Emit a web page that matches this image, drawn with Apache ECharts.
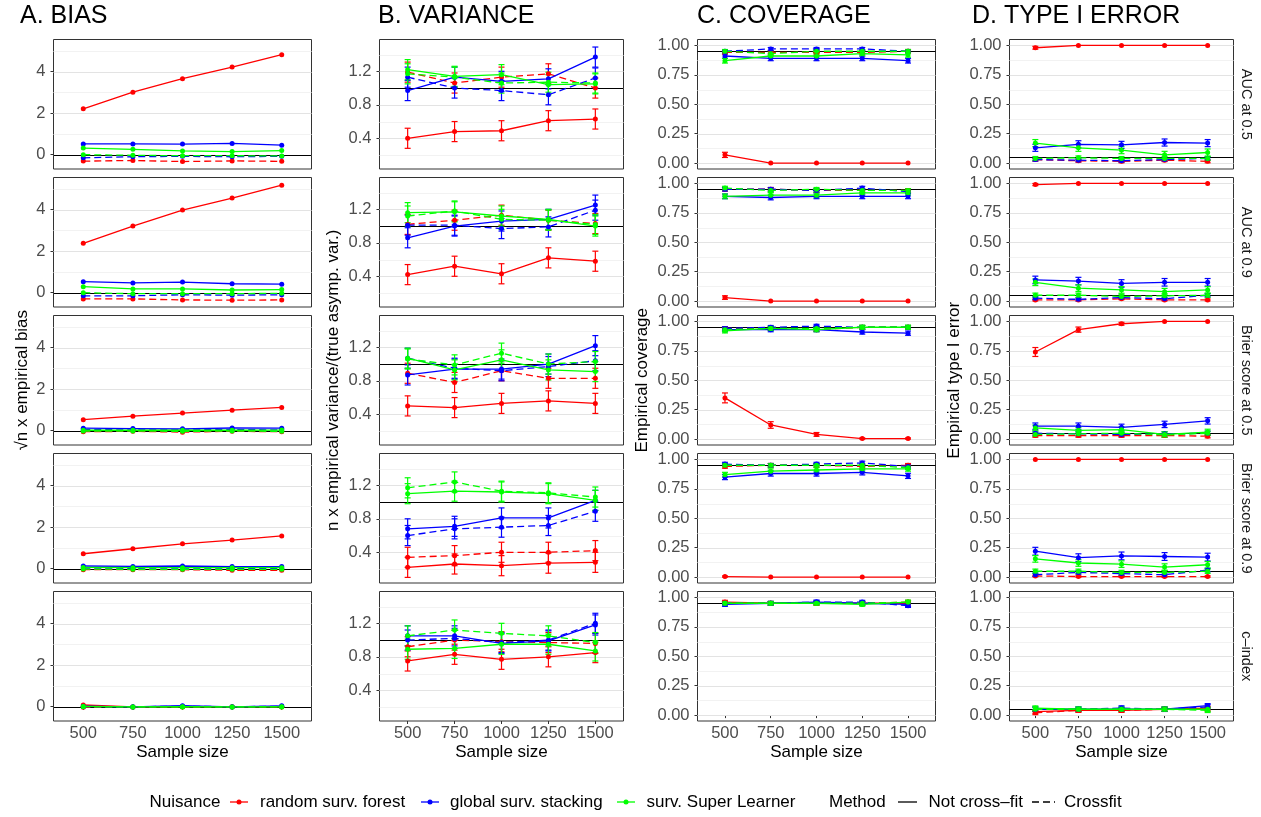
<!DOCTYPE html>
<html><head><meta charset="utf-8">
<script src="https://cdn.jsdelivr.net/npm/echarts@6/dist/echarts.min.js"></script>
<style>html,body{margin:0;padding:0;background:#fff}#chart{width:1261px;height:817px}</style>
</head><body><div id="chart"></div>
<script>
// ---------------- DATA ----------------
const sampleSizes = [500, 750, 1000, 1250, 1500];
const nuisanceNames = ['random surv. forest', 'global surv. stacking', 'surv. Super Learner'];
const methodNames = ['Not cross–fit', 'Crossfit'];
const metricNames = ['AUC at 0.5', 'AUC at 0.9', 'Brier score at 0.5', 'Brier score at 0.9', 'c–index'];
const panelTitles = ['A. BIAS', 'B. VARIANCE', 'C. COVERAGE', 'D. TYPE I ERROR'];
const yTitles = ['√n x empirical bias', 'n x empirical variance/(true asymp. var.)', 'Empirical coverage', 'Empirical type I error'];
const biasTicks = [0, 2, 4];
const varTicks = [0.4, 0.8, 1.2];
const propTicks = [0, 0.25, 0.5, 0.75, 1];
const biasRef = 0, varRef = 1, covRef = 0.95, typeIRef = 0.05;

// each panel: [RSF not-CF, RSF CF, GSS not-CF, GSS CF, SSL not-CF, SSL CF]
const biasAUC05 = [[2.21,3.01,3.66,4.22,4.82],[-0.31,-0.28,-0.33,-0.30,-0.32],[0.52,0.52,0.51,0.54,0.46],[-0.15,-0.10,-0.08,-0.10,-0.08],[0.32,0.26,0.18,0.15,0.20],[0.0,-0.03,-0.05,-0.05,-0.06]];
const biasAUC09 = [[2.38,3.21,3.98,4.56,5.18],[-0.30,-0.30,-0.35,-0.36,-0.35],[0.53,0.47,0.51,0.43,0.41],[-0.15,-0.15,-0.10,-0.12,-0.10],[0.29,0.18,0.18,0.13,0.15],[0.0,-0.05,-0.05,-0.05,-0.03]];
const biasBrier05 = [[0.53,0.70,0.85,0.99,1.12],[-0.05,-0.03,-0.07,-0.03,-0.05],[0.12,0.10,0.09,0.13,0.12],[0.05,0.04,0.04,0.05,0.04],[0.02,0.02,0.02,0.02,0.03],[-0.02,-0.02,-0.03,-0.02,-0.03]];
const biasBrier09 = [[0.72,0.96,1.20,1.38,1.58],[-0.05,-0.05,-0.05,-0.08,-0.08],[0.13,0.11,0.13,0.10,0.10],[0.03,0.02,0.03,0.02,0.02],[0.06,0.05,0.05,0.05,0.05],[-0.02,-0.03,-0.03,-0.03,-0.03]];
const biasCindex = [[0.08,-0.01,0.0,0.0,0.0],[-0.03,-0.02,-0.02,-0.01,-0.01],[0.02,-0.01,0.05,-0.01,0.04],[0.0,0.0,0.02,0.0,0.02],[0.01,-0.01,0.0,-0.01,-0.01],[0.0,-0.01,-0.01,-0.01,0.0]];

const varAUC05 = [[0.40,0.48,0.49,0.61,0.63],[1.19,1.06,1.13,1.17,1.00],[0.97,1.13,1.08,1.11,1.37],[1.13,1.00,0.97,0.92,1.12],[1.22,1.14,1.16,1.04,1.05],[1.17,1.13,1.06,1.07,1.06]];
const varAUC09 = [[0.42,0.52,0.43,0.62,0.58],[1.02,1.07,1.13,1.07,1.03],[0.86,1.00,1.06,1.08,1.25],[1.01,1.01,0.97,0.99,1.19],[1.16,1.17,1.12,1.08,1.00],[1.12,1.18,1.08,1.07,1.02]];
const varBrier05 = [[0.50,0.48,0.53,0.56,0.53],[0.89,0.78,0.92,0.83,0.83],[0.87,0.94,0.94,1.00,1.22],[1.07,0.95,0.92,0.97,1.04],[1.07,0.93,1.05,0.93,0.91],[1.06,0.99,1.13,1.00,1.03]];
const varBrier09 = [[0.22,0.26,0.24,0.27,0.28],[0.34,0.36,0.40,0.40,0.42],[0.68,0.71,0.81,0.81,1.02],[0.60,0.68,0.70,0.72,0.89],[1.10,1.13,1.12,1.10,1.02],[1.17,1.24,1.13,1.11,1.06]];
const varCindex = [[0.75,0.83,0.77,0.80,0.85],[0.92,1.00,0.98,0.97,0.96],[1.05,1.05,0.96,0.99,1.18],[1.00,1.02,0.97,1.00,1.20],[0.89,0.90,0.95,0.95,0.87],[1.05,1.12,1.08,1.05,0.97]];
const varHalfWidth = 0.12;

const covAUC05 = [[0.07,0,0,0,0],[0.94,0.94,0.94,0.94,0.95],[0.91,0.89,0.89,0.89,0.87],[0.95,0.97,0.97,0.97,0.95],[0.87,0.91,0.91,0.93,0.92],[0.95,0.93,0.95,0.95,0.95]];
const covAUC09 = [[0.03,0,0,0,0],[0.95,0.95,0.94,0.94,0.94],[0.89,0.88,0.89,0.89,0.89],[0.95,0.95,0.94,0.96,0.93],[0.89,0.90,0.90,0.92,0.92],[0.96,0.94,0.95,0.94,0.94]];
const covBrier05 = [[0.35,0.12,0.04,0.005,0.005],[0.94,0.94,0.93,0.95,0.95],[0.93,0.93,0.93,0.91,0.90],[0.94,0.95,0.96,0.95,0.95],[0.92,0.94,0.93,0.95,0.95],[0.93,0.94,0.94,0.95,0.95]];
const covBrier09 = [[0.005,0,0,0,0],[0.94,0.95,0.95,0.94,0.95],[0.85,0.88,0.88,0.89,0.86],[0.96,0.95,0.96,0.97,0.94],[0.87,0.90,0.91,0.92,0.92],[0.95,0.95,0.95,0.95,0.93]];
const covCindex = [[0.96,0.95,0.95,0.95,0.95],[0.95,0.95,0.95,0.95,0.96],[0.94,0.95,0.96,0.95,0.94],[0.95,0.95,0.96,0.96,0.93],[0.95,0.95,0.95,0.94,0.96],[0.95,0.95,0.95,0.95,0.96]];
// error-bar half widths (one value per series, or one per point)
const covErrAUC05 = [[0.022,0,0,0,0],0.015,0.02,0.012,0.02,0.015];
const covErrAUC09 = [[0.015,0,0,0,0],0.015,0.02,0.015,0.02,0.015];
const covErrBrier05 = [[0.042,0.028,0.016,0.005,0.005],0.015,0.018,0.015,0.018,0.015];
const covErrBrier09 = [[0.005,0,0,0,0],0.015,0.022,0.015,0.02,0.015];
const covErrCindex = [0.015,0.015,0.016,0.015,0.015,0.015];

const t1AUC05 = [[0.98,1,1,1,1],[0.03,0.02,0.015,0.025,0.015],[0.13,0.16,0.155,0.175,0.17],[0.03,0.025,0.02,0.03,0.04],[0.17,0.13,0.11,0.07,0.09],[0.04,0.045,0.04,0.04,0.04]];
const t1AUC09 = [[0.99,1,1,1,1],[0.01,0.01,0.02,0.01,0.01],[0.18,0.17,0.15,0.16,0.16],[0.025,0.015,0.03,0.02,0.05],[0.16,0.11,0.095,0.08,0.095],[0.05,0.05,0.04,0.045,0.05]];
const t1Brier05 = [[0.74,0.93,0.98,1,1],[0.03,0.03,0.03,0.03,0.025],[0.11,0.11,0.10,0.125,0.155],[0.05,0.045,0.04,0.045,0.05],[0.095,0.075,0.08,0.04,0.06],[0.04,0.045,0.05,0.035,0.05]];
const t1Brier09 = [[1,1,1,1,1],[0.01,0.005,0.005,0.005,0.005],[0.22,0.165,0.18,0.175,0.17],[0.02,0.04,0.03,0.02,0.06],[0.155,0.12,0.11,0.085,0.105],[0.05,0.05,0.04,0.04,0.05]];
const t1Cindex = [[0.03,0.04,0.04,0.05,0.06],[0.02,0.04,0.04,0.05,0.05],[0.05,0.05,0.05,0.05,0.08],[0.05,0.05,0.06,0.05,0.07],[0.06,0.05,0.05,0.05,0.05],[0.05,0.05,0.05,0.05,0.04]];
const t1ErrAUC05 = [[0.012,0,0,0,0],0.012,0.03,0.013,0.03,0.016];
const t1ErrAUC09 = [[0.009,0,0,0,0],0.008,0.032,0.013,0.028,0.018];
const t1ErrBrier05 = [[0.038,0.022,0.012,0,0],0.014,0.027,0.018,0.024,0.017];
const t1ErrBrier09 = [0,0.006,0.033,0.015,0.028,0.018];
const t1ErrCindex = [0.015,0.016,0.018,0.019,0.018,0.018];

// ---------------- LAYOUT / STYLE ----------------
const FONT = '"Liberation Sans", Arial, Helvetica, sans-serif';
const seriesColors = ['#FF0000', '#0000FF', '#00FF00'];
const colLeft = [53.5, 379.5, 697.5, 1009.5];
const colWidth = [258, 244, 238, 224];
const rowTop = [39.5, 177.5, 315.5, 453.5, 591.5];
const rowHeight = 129.5;
const dashPattern = [7, 4];

const columns = [
  {rows: [biasAUC05, biasAUC09, biasBrier05, biasBrier09, biasCindex], err: null,
   ticks: biasTicks, minor: [1, 3, 5], ref: biasRef, min: -0.69, max: 5.55, dec: 0},
  {rows: [varAUC05, varAUC09, varBrier05, varBrier09, varCindex], err: varHalfWidth,
   ticks: varTicks, minor: [0.2, 0.6, 1.0, 1.4], ref: varRef, min: 0.033, max: 1.58, dec: 1},
  {rows: [covAUC05, covAUC09, covBrier05, covBrier09, covCindex],
   err: [covErrAUC05, covErrAUC09, covErrBrier05, covErrBrier09, covErrCindex],
   ticks: propTicks, minor: [0.125, 0.375, 0.625, 0.875], ref: covRef, min: -0.05, max: 1.05, dec: 2},
  {rows: [t1AUC05, t1AUC09, t1Brier05, t1Brier09, t1Cindex],
   err: [t1ErrAUC05, t1ErrAUC09, t1ErrBrier05, t1ErrBrier09, t1ErrCindex],
   ticks: propTicks, minor: [0.125, 0.375, 0.625, 0.875], ref: typeIRef, min: -0.05, max: 1.05, dec: 2}
];

function errAt(col, r, k, i) {
  const e = col.err;
  if (e == null) return null;
  if (typeof e === 'number') return e;
  const s = e[r][k];
  return Array.isArray(s) ? s[i] : s;
}

function hLineSeries(g, values, color, width, z) {
  return {
    type: 'custom', xAxisIndex: g, yAxisIndex: g, silent: true, z: z, animation: false,
    data: values.map(v => [1000, v]),
    renderItem: function (params, api) {
      const cs = params.coordSys;
      const y = Math.round(api.coord([1000, api.value(1)])[1]) + 0.5;
      return {type: 'line', shape: {x1: cs.x, y1: y, x2: cs.x + cs.width, y2: y},
              style: {stroke: color, lineWidth: width}};
    }
  };
}

const grids = [], xAxes = [], yAxes = [], series = [];
columns.forEach((col, c) => {
  for (let r = 0; r < 5; r++) {
    const g = c * 5 + r;
    grids.push({left: colLeft[c], top: rowTop[r], width: colWidth[c], height: rowHeight,
      show: true, borderColor: '#333333', borderWidth: 1, backgroundColor: '#FFFFFF',
      containLabel: false, outerBoundsMode: 'none'});
    const bottom = r === 4;
    xAxes.push({gridIndex: g, type: 'value', min: 350, max: 1650,
      splitLine: {show: false}, axisLine: {show: false},
      axisTick: {show: bottom, customValues: sampleSizes, length: 3, lineStyle: {color: '#333333'}},
      axisLabel: {show: bottom, customValues: sampleSizes, color: '#4D4D4D', fontSize: 16.5, fontFamily: FONT, margin: 4,
        formatter: v => String(v)}
    });
    yAxes.push({gridIndex: g, type: 'value', min: col.min, max: col.max,
      splitLine: {show: false}, axisLine: {show: false},
      axisTick: {show: true, customValues: col.ticks, length: 3, lineStyle: {color: '#333333'}},
      axisLabel: {show: true, customValues: col.ticks, color: '#4D4D4D', fontSize: 16.5, fontFamily: FONT, margin: 8,
        formatter: v => Number(v).toFixed(col.dec)}
    });
    series.push(hLineSeries(g, col.minor, '#F2F2F2', 1, 1));
    series.push(hLineSeries(g, col.ticks, '#E3E3E3', 1, 1));
    series.push(hLineSeries(g, [col.ref], '#000000', 1.1, 2));
    const panel = col.rows[r];
    panel.forEach((vals, k) => {
      const color = seriesColors[Math.floor(k / 2)];
      const dashed = k % 2 === 1;
      if (col.err != null) {
        series.push({
          type: 'custom', xAxisIndex: g, yAxisIndex: g, silent: true, z: 3, animation: false,
          data: sampleSizes.map((x, i) => { const e = errAt(col, r, k, i); return [x, vals[i] - e, vals[i] + e]; }),
          renderItem: function (params, api) {
            const x = api.value(0);
            const lo = api.coord([x, api.value(1)]);
            const hi = api.coord([x, api.value(2)]);
            if (Math.abs(lo[1] - hi[1]) < 0.5) return null;
            const w = 3;
            const st = {stroke: color, lineWidth: 1.2};
            return {type: 'group', children: [
              {type: 'line', shape: {x1: lo[0], y1: lo[1], x2: hi[0], y2: hi[1]}, style: st},
              {type: 'line', shape: {x1: lo[0] - w, y1: lo[1], x2: lo[0] + w, y2: lo[1]}, style: st},
              {type: 'line', shape: {x1: hi[0] - w, y1: hi[1], x2: hi[0] + w, y2: hi[1]}, style: st}
            ]};
          }
        });
      }
      series.push({
        type: 'line', name: nuisanceNames[Math.floor(k / 2)] + ' / ' + methodNames[k % 2],
        xAxisIndex: g, yAxisIndex: g, silent: true, z: 4, animation: false,
        data: sampleSizes.map((x, i) => [x, vals[i]]),
        symbol: 'circle', symbolSize: 5, showSymbol: true,
        lineStyle: {color: color, width: 1.3, type: dashed ? dashPattern : 'solid'},
        itemStyle: {color: color}, emphasis: {disabled: true}
      });
    });
  }
});

// ---------------- TEXT / LEGEND ----------------
const graphic = [];
const yTitleX = [22, 333, 642, 954];
const panelsMidY = (rowTop[0] + rowTop[4] + rowHeight) / 2;
yTitles.forEach((t, c) => {
  graphic.push({type: 'text', x: yTitleX[c], y: panelsMidY, rotation: Math.PI / 2, silent: true,
    style: {text: t, font: '17px ' + FONT, fill: '#000000', align: 'center', verticalAlign: 'middle'}});
  graphic.push({type: 'text', x: colLeft[c] + colWidth[c] / 2, y: 752, silent: true,
    style: {text: 'Sample size', font: '17px ' + FONT, fill: '#000000', align: 'center', verticalAlign: 'middle'}});
});
metricNames.forEach((m, r) => {
  graphic.push({type: 'text', x: 1246, y: rowTop[r] + rowHeight / 2, rotation: -Math.PI / 2, silent: true,
    style: {text: m, font: '14.5px ' + FONT, fill: '#1A1A1A', align: 'center', verticalAlign: 'middle'}});
});
const legendY = 802;
const legFont = '17px ' + FONT;
graphic.push({type: 'text', x: 149.5, y: legendY, silent: true, style: {text: 'Nuisance', font: legFont, fill: '#000', verticalAlign: 'middle'}});
const nuisKeys = [[230, 248, 260], [421, 439, 450], [617, 635, 646.5]];
nuisKeys.forEach((kk, j) => {
  graphic.push({type: 'line', silent: true, shape: {x1: kk[0], y1: legendY, x2: kk[1], y2: legendY}, style: {stroke: seriesColors[j], lineWidth: 1.3}});
  graphic.push({type: 'circle', silent: true, shape: {cx: (kk[0] + kk[1]) / 2, cy: legendY, r: 2.5}, style: {fill: seriesColors[j]}});
  graphic.push({type: 'text', x: kk[2], y: legendY, silent: true, style: {text: nuisanceNames[j], font: legFont, fill: '#000', verticalAlign: 'middle'}});
});
graphic.push({type: 'text', x: 829, y: legendY, silent: true, style: {text: 'Method', font: legFont, fill: '#000', verticalAlign: 'middle'}});
const methKeys = [[898, 917, 928.5], [1032, 1055, 1064]];
methKeys.forEach((kk, j) => {
  graphic.push({type: 'line', silent: true, shape: {x1: kk[0], y1: legendY, x2: kk[1], y2: legendY},
    style: {stroke: '#000', lineWidth: 1.3, lineDash: j === 1 ? dashPattern : null}});
  graphic.push({type: 'text', x: kk[2], y: legendY, silent: true, style: {text: methodNames[j], font: legFont, fill: '#000', verticalAlign: 'middle'}});
});

const titleLeft = [20, 378, 697, 972];
const titles = panelTitles.map((t, c) => ({text: t, left: titleLeft[c], top: 4, padding: 0,
  textStyle: {fontSize: 25, fontWeight: 'normal', color: '#000000', fontFamily: FONT}}));

const chart = echarts.init(document.getElementById('chart'), null, {renderer: 'canvas'});
chart.setOption({
  animation: false,
  backgroundColor: '#FFFFFF',
  title: titles,
  grid: grids,
  xAxis: xAxes,
  yAxis: yAxes,
  series: series,
  graphic: graphic
});
</script></body></html>
